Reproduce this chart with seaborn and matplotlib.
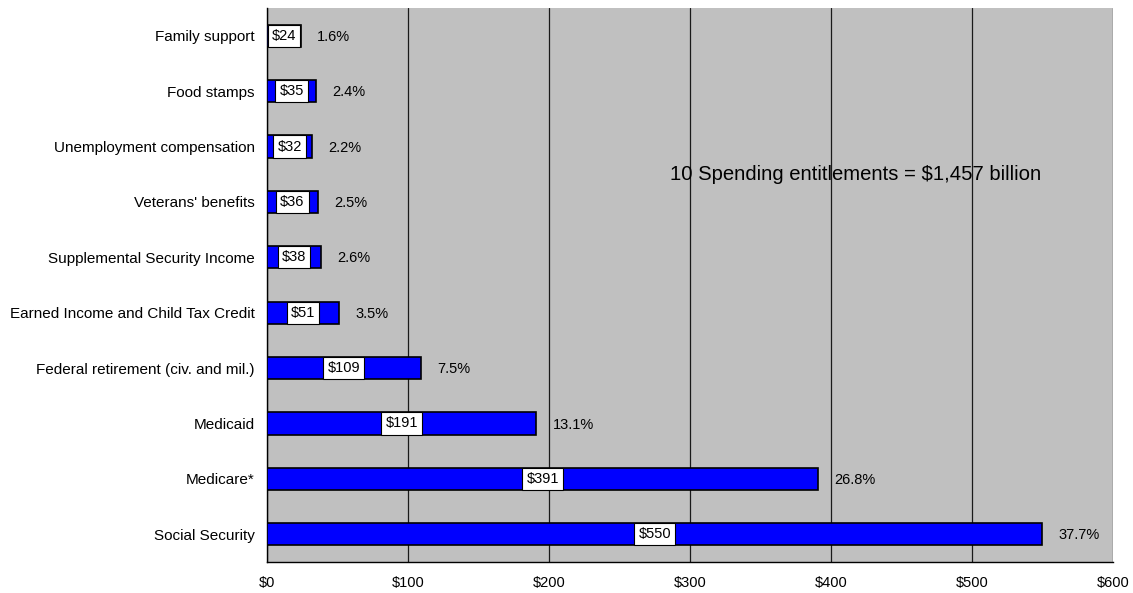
import matplotlib
matplotlib.use("Agg")
import matplotlib.pyplot as plt
import seaborn as sns
import pandas as pd
from matplotlib.ticker import MultipleLocator, FuncFormatter

programs = [
    "Family support",
    "Food stamps",
    "Unemployment compensation",
    "Veterans' benefits",
    "Supplemental Security Income",
    "Earned Income and Child Tax Credit",
    "Federal retirement (civ. and mil.)",
    "Medicaid",
    "Medicare*",
    "Social Security",
]
spending = [24, 35, 32, 36, 38, 51, 109, 191, 391, 550]
shares = ["1.6%", "2.4%", "2.2%", "2.5%", "2.6%", "3.5%", "7.5%", "13.1%", "26.8%", "37.7%"]
title_note = "10 Spending entitlements = $1,457 billion"

df = pd.DataFrame({"program": programs, "spending": spending, "share": shares})

sns.set_style("white")
plt.rcParams["font.family"] = ["Liberation Sans", "DejaVu Sans"]
plt.rcParams.update({"text.color": "black", "xtick.color": "black",
                     "ytick.color": "black", "axes.labelcolor": "black"})

fig = plt.figure(figsize=(11.33, 5.93), dpi=100)
ax = fig.add_axes([0.2357, 0.0523, 0.9823 - 0.2357, 0.9865 - 0.0523])

sns.barplot(data=df, x="spending", y="program", order=programs, orient="h",
            color="#0000FF", saturation=1, width=0.4, edgecolor="black",
            linewidth=1.2, ax=ax, zorder=3)

ax.set_facecolor("#C0C0C0")
ax.set_xlim(0, 600)
ax.xaxis.set_major_locator(MultipleLocator(100))
ax.xaxis.set_major_formatter(FuncFormatter(lambda v, p: f"${v:,.0f}"))
ax.grid(axis="x", color="#1a1a1a", linewidth=0.9, zorder=1)
ax.grid(axis="y", visible=False)
ax.set_xlabel("")
ax.set_ylabel("")

for side in ("top", "right"):
    ax.spines[side].set_visible(False)
for side in ("left", "bottom"):
    ax.spines[side].set_visible(True)
    ax.spines[side].set_color("black")
    ax.spines[side].set_linewidth(1.0)

# Category tick marks sit between the bars
n = len(programs)
ax.set_yticks(range(n))
ax.set_yticklabels(programs, fontsize=11)
ax.tick_params(axis="y", length=0, pad=9)
ax.set_yticks([i - 0.5 for i in range(n + 1)], minor=True)
ax.tick_params(axis="y", which="minor", length=5, width=1, direction="out", color="black")
ax.tick_params(axis="x", length=0, labelsize=10.5, pad=10)
ax.set_ylim(n - 0.5, -0.5)

for i, (val, pct) in enumerate(zip(spending, shares)):
    ax.text(val / 2, i, f"${val}", ha="center", va="center", fontsize=10.5, zorder=5,
            bbox=dict(boxstyle="square,pad=0.28", facecolor="white", edgecolor="black", linewidth=0.8))
    ax.text(val + 11.5, i + 0.02, pct, ha="left", va="center", fontsize=10.5, zorder=5)

ax.text(286, 2.5, title_note, ha="left", va="center", fontsize=14.6, zorder=5)

fig.savefig("out.png", dpi=100)
